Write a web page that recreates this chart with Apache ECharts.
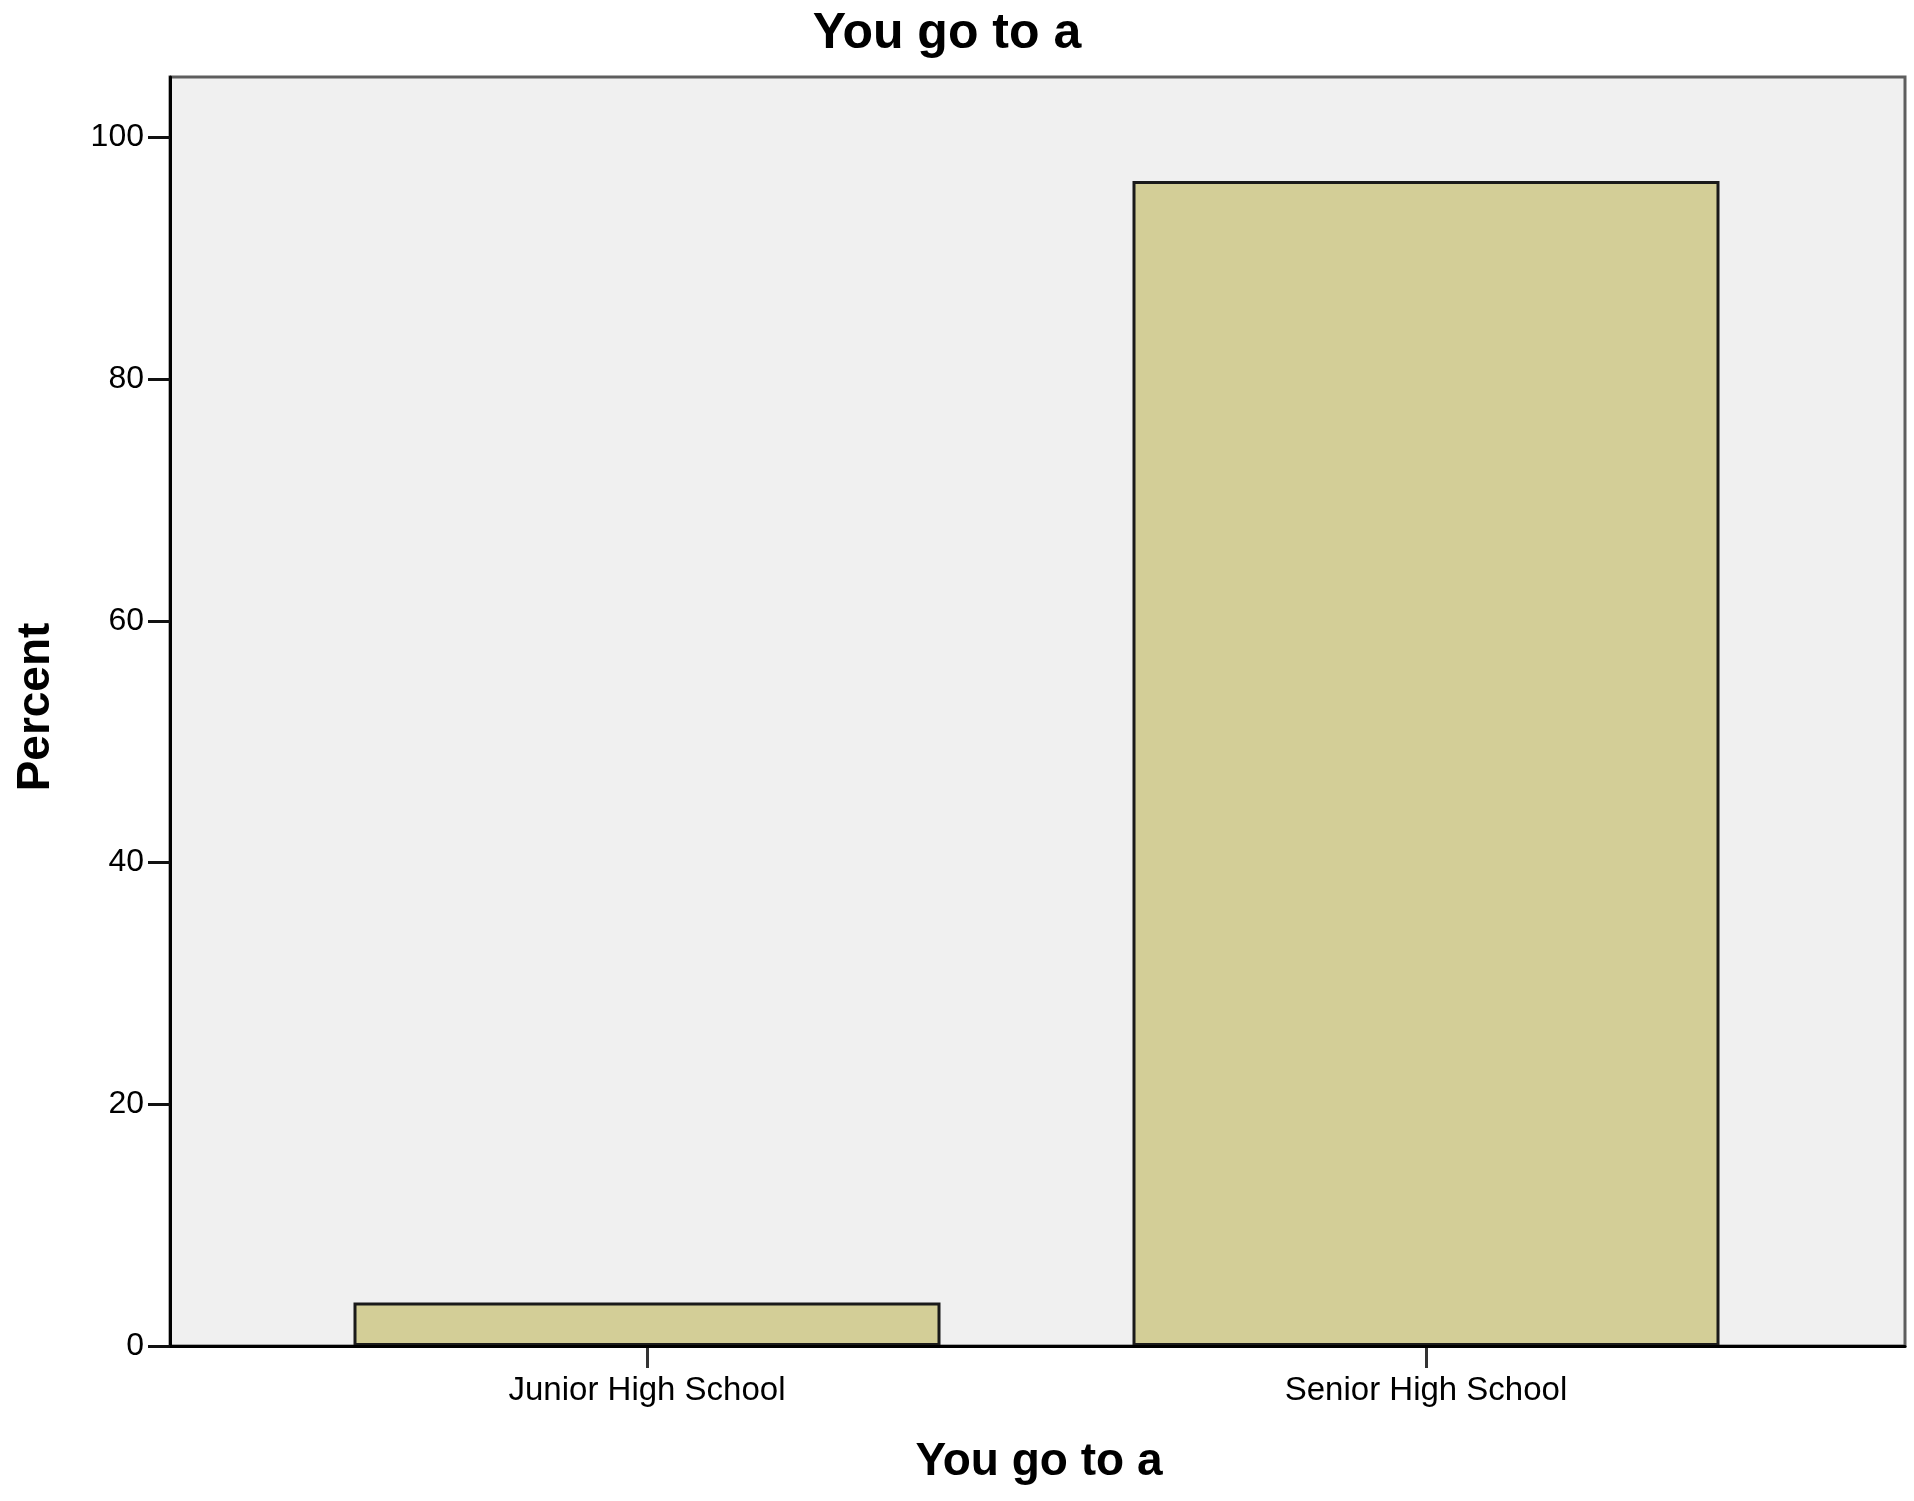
<!DOCTYPE html>
<html>
<head>
<meta charset="utf-8">
<script src="https://cdn.jsdelivr.net/npm/echarts@6/dist/echarts.min.js"></script>
<style>
html,body{margin:0;padding:0;background:#fff;}
#chart{width:1914px;height:1501px;}
</style>
</head>
<body>
<div id="chart"></div>
<script>
var categories = ['Junior High School', 'Senior High School'];
var percentValues = [3.6, 96.4];
var yTicks = [0, 20, 40, 60, 80, 100];
var chartTitle = 'You go to a';
var xAxisTitle = 'You go to a';
var yAxisTitle = 'Percent';

var FONT = '"Liberation Sans", Arial, sans-serif';
var chart = echarts.init(document.getElementById('chart'), null, {renderer: 'canvas'});

var option = {
  backgroundColor: '#ffffff',
  animation: false,
  grid: [
    {left: 170, top: 77, width: 1735, height: 1269, show: true,
     backgroundColor: '#f0f0f0', borderColor: '#5e5e5e', borderWidth: 3, z: 0},
    {left: 257.5, top: 77, width: 1558, height: 1269, show: false}
  ],
  xAxis: [
    {gridIndex: 0, type: 'value', min: 0, max: 1,
     axisLine: {show: true, onZero: false, lineStyle: {color: '#000', width: 3}},
     axisTick: {show: false}, axisLabel: {show: false}, splitLine: {show: false}, z: 5},
    {gridIndex: 1, type: 'category', data: categories,
     axisLine: {show: false},
     axisTick: {show: true, alignWithLabel: true, length: 22, lineStyle: {color: '#333', width: 3}},
     axisLabel: {show: true, margin: 28, color: '#000', fontFamily: FONT, fontSize: 33},
     splitLine: {show: false}}
  ],
  yAxis: [
    {gridIndex: 0, type: 'value', min: 0, max: 105,
     axisLine: {show: true, onZero: false, lineStyle: {color: '#000', width: 3}},
     axisTick: {show: true, length: 22, customValues: yTicks, lineStyle: {color: '#111', width: 3}},
     axisLabel: {show: true, margin: 26, customValues: yTicks, color: '#000', fontFamily: FONT, fontSize: 32},
     splitLine: {show: false}, z: 5},
    {gridIndex: 1, type: 'value', min: 0, max: 105, show: false}
  ],
  series: [{
    type: 'bar', xAxisIndex: 1, yAxisIndex: 1,
    data: percentValues, barWidth: 587,
    itemStyle: {color: '#d3ce97', borderColor: '#1a1a1a', borderWidth: 3},
    z: 3
  }],
  graphic: [
    {type: 'text', silent: true,
     style: {text: chartTitle, x: 947, y: 34, textAlign: 'center', textVerticalAlign: 'middle',
             font: 'bold 50px ' + FONT, fill: '#000'}},
    {type: 'text', silent: true,
     style: {text: xAxisTitle, x: 1039, y: 1462, textAlign: 'center', textVerticalAlign: 'middle',
             font: 'bold 46px ' + FONT, fill: '#000'}},
    {type: 'text', silent: true, rotation: Math.PI / 2, x: 36, y: 707,
     style: {text: yAxisTitle, x: 0, y: 0, textAlign: 'center', textVerticalAlign: 'middle',
             font: 'bold 46px ' + FONT, fill: '#000'}}
  ]
};
chart.setOption(option);
</script>
</body>
</html>
